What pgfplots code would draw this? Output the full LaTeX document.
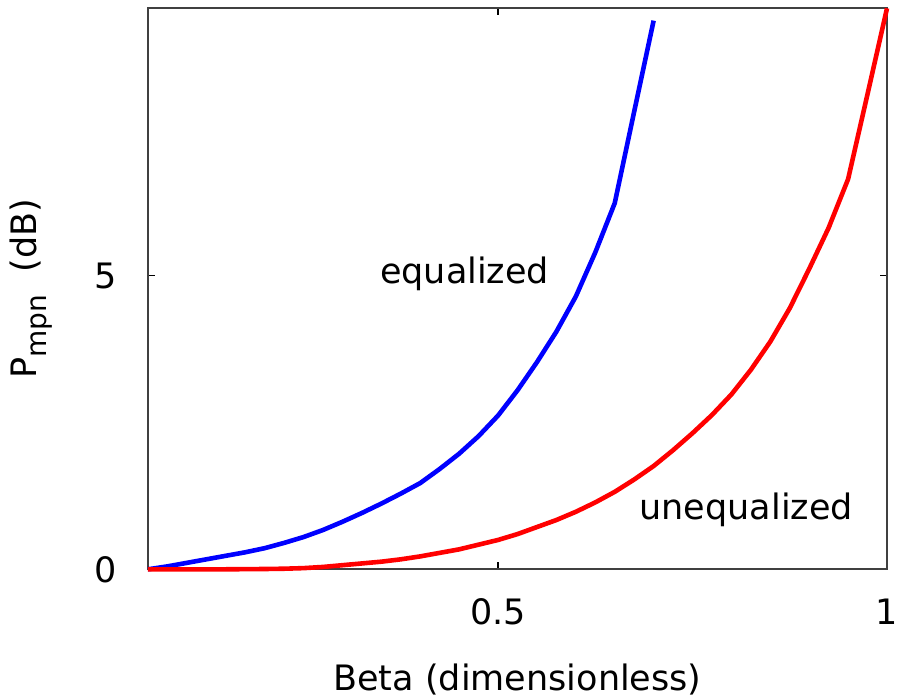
\documentclass[border=0pt]{standalone}
\usepackage{fontspec}
\setmainfont{DejaVu Sans}
\usepackage{pgfplots}
\pgfplotsset{compat=1.18}

\definecolor{axisgray}{HTML}{404040}

\begin{document}
\fontsize{17.5}{20}\selectfont
\begin{tikzpicture}
\begin{axis}[
    at={(0,0)}, anchor=south west,
    scale only axis,
    width=369.5pt, height=280.5pt,
    xmin=0.05, xmax=1,
    ymin=0, ymax=9.56,
    xtick={0.5,1}, ytick={0,5},
    xticklabels={0.5,1}, yticklabels={0,5},
    tick align=inside,
    major tick length=3.5pt,
    tick style={black, line width=0.6pt},
    axis line style={axisgray, line width=1pt},
    /pgf/number format/assume math mode=true,
    ticklabel style={font=\fontsize{17.5}{20}\selectfont},
    xticklabel style={anchor=center, yshift=-21pt},
    yticklabel style={anchor=east, xshift=-9.8pt},
    xlabel={Beta (dimensionless)},
    xlabel style={at={(axis description cs:0.5,0)}, anchor=center, yshift=-55.3pt,
        font=\fontsize{17.5}{20}\selectfont},
    ylabel={P\raisebox{-0.28em}{\fontsize{14}{14}\selectfont mpn}\ \ (dB)},
    ylabel style={at={(axis description cs:-0.158,0.5)}, anchor=center, rotate=0,
        font=\fontsize{17.5}{20}\selectfont},
    clip=false,
]

% equalized
\addplot[color=blue, line width=2.3pt] coordinates {
    (0.050, 0.00) (0.075, 0.05) (0.100, 0.11) (0.125, 0.17)
    (0.150, 0.23) (0.175, 0.29) (0.200, 0.36) (0.225, 0.45)
    (0.250, 0.55) (0.275, 0.67) (0.300, 0.81) (0.325, 0.96)
    (0.350, 1.12) (0.375, 1.29) (0.400, 1.47) (0.425, 1.71)
    (0.450, 1.97) (0.475, 2.27) (0.500, 2.62) (0.525, 3.05)
    (0.550, 3.53) (0.575, 4.05) (0.600, 4.65) (0.625, 5.40)
    (0.650, 6.24) (0.675, 7.80) (0.700, 9.35)
};

% unequalized
\addplot[color=red, line width=2.3pt] coordinates {
    (0.050, 0.00) (0.100, 0.00) (0.150, 0.00) (0.200, 0.005)
    (0.225, 0.01) (0.250, 0.02) (0.275, 0.04) (0.300, 0.07)
    (0.325, 0.10) (0.350, 0.13) (0.375, 0.17) (0.400, 0.22)
    (0.425, 0.28) (0.450, 0.34) (0.475, 0.42) (0.500, 0.50)
    (0.525, 0.60) (0.550, 0.72) (0.575, 0.84) (0.600, 0.98)
    (0.625, 1.14) (0.650, 1.32) (0.675, 1.53) (0.700, 1.76)
    (0.725, 2.03) (0.750, 2.32) (0.775, 2.63) (0.800, 2.98)
    (0.825, 3.40) (0.850, 3.88) (0.875, 4.45) (0.900, 5.12)
    (0.925, 5.82) (0.950, 6.65) (0.975, 8.10) (1.000, 9.56)
};

\node[anchor=center] at (axis cs:0.457,5.03) {equalized};
\node[anchor=center] at (axis cs:0.819,1.01) {unequalized};

\end{axis}
\pgfresetboundingbox
\path[use as bounding box] (-74pt,-65.35pt) rectangle (375pt,284.65pt);
\end{tikzpicture}
\end{document}
